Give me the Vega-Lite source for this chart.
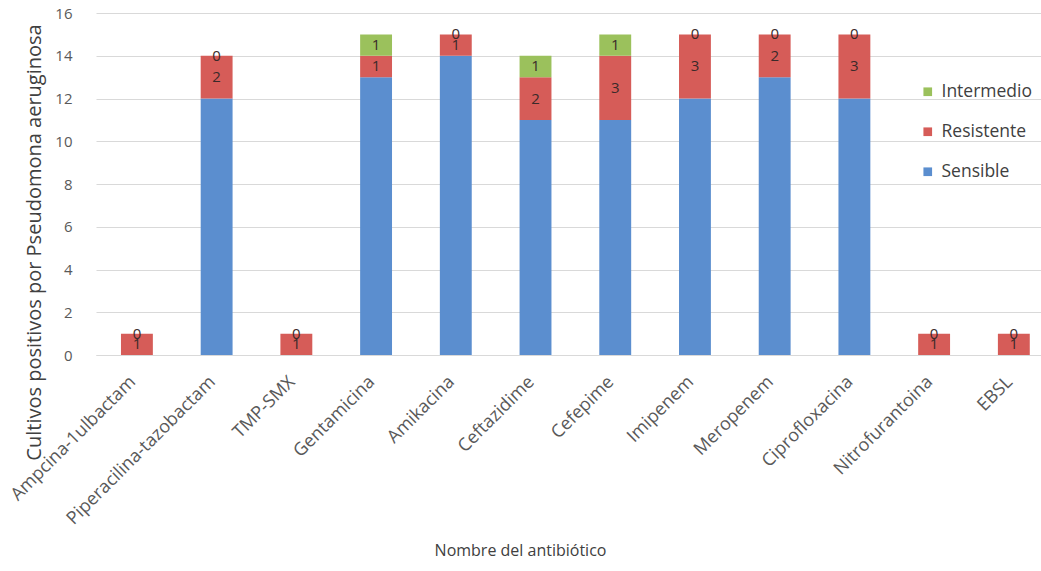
{
  "$schema": "https://vega.github.io/schema/vega-lite/v6.json",
  "width": 945,
  "height": 342,
  "autosize": "none",
  "padding": {"left": 96, "top": 13, "right": 0, "bottom": 216},
  "background": "white",
  "config": {"view": {"stroke": null}, "font": "Open Sans"},
  "data": {
    "values": [
      {"antibiotico": "Ampcina-1ulbactam", "tipo": "Sensible", "valor": 0},
      {"antibiotico": "Ampcina-1ulbactam", "tipo": "Resistente", "valor": 1},
      {"antibiotico": "Ampcina-1ulbactam", "tipo": "Intermedio", "valor": 0},
      {"antibiotico": "Piperacilina-tazobactam", "tipo": "Sensible", "valor": 12},
      {"antibiotico": "Piperacilina-tazobactam", "tipo": "Resistente", "valor": 2},
      {"antibiotico": "Piperacilina-tazobactam", "tipo": "Intermedio", "valor": 0},
      {"antibiotico": "TMP-SMX", "tipo": "Sensible", "valor": 0},
      {"antibiotico": "TMP-SMX", "tipo": "Resistente", "valor": 1},
      {"antibiotico": "TMP-SMX", "tipo": "Intermedio", "valor": 0},
      {"antibiotico": "Gentamicina", "tipo": "Sensible", "valor": 13},
      {"antibiotico": "Gentamicina", "tipo": "Resistente", "valor": 1},
      {"antibiotico": "Gentamicina", "tipo": "Intermedio", "valor": 1},
      {"antibiotico": "Amikacina", "tipo": "Sensible", "valor": 14},
      {"antibiotico": "Amikacina", "tipo": "Resistente", "valor": 1},
      {"antibiotico": "Amikacina", "tipo": "Intermedio", "valor": 0},
      {"antibiotico": "Ceftazidime", "tipo": "Sensible", "valor": 11},
      {"antibiotico": "Ceftazidime", "tipo": "Resistente", "valor": 2},
      {"antibiotico": "Ceftazidime", "tipo": "Intermedio", "valor": 1},
      {"antibiotico": "Cefepime", "tipo": "Sensible", "valor": 11},
      {"antibiotico": "Cefepime", "tipo": "Resistente", "valor": 3},
      {"antibiotico": "Cefepime", "tipo": "Intermedio", "valor": 1},
      {"antibiotico": "Imipenem", "tipo": "Sensible", "valor": 12},
      {"antibiotico": "Imipenem", "tipo": "Resistente", "valor": 3},
      {"antibiotico": "Imipenem", "tipo": "Intermedio", "valor": 0},
      {"antibiotico": "Meropenem", "tipo": "Sensible", "valor": 13},
      {"antibiotico": "Meropenem", "tipo": "Resistente", "valor": 2},
      {"antibiotico": "Meropenem", "tipo": "Intermedio", "valor": 0},
      {"antibiotico": "Ciprofloxacina", "tipo": "Sensible", "valor": 12},
      {"antibiotico": "Ciprofloxacina", "tipo": "Resistente", "valor": 3},
      {"antibiotico": "Ciprofloxacina", "tipo": "Intermedio", "valor": 0},
      {"antibiotico": "Nitrofurantoina", "tipo": "Sensible", "valor": 0},
      {"antibiotico": "Nitrofurantoina", "tipo": "Resistente", "valor": 1},
      {"antibiotico": "Nitrofurantoina", "tipo": "Intermedio", "valor": 0},
      {"antibiotico": "EBSL", "tipo": "Sensible", "valor": 0},
      {"antibiotico": "EBSL", "tipo": "Resistente", "valor": 1},
      {"antibiotico": "EBSL", "tipo": "Intermedio", "valor": 0}
    ]
  },
  "transform": [
    {"calculate": "indexof(['Sensible','Resistente','Intermedio'], datum.tipo)", "as": "orden"},
    {"stack": "valor", "groupby": ["antibiotico"], "sort": [{"field": "orden", "order": "ascending"}], "as": ["y0", "y1"]},
    {"calculate": "(datum.y0 + datum.y1) / 2", "as": "ymid"}
  ],
  "encoding": {
    "x": {
      "field": "antibiotico",
      "type": "nominal",
      "sort": null,
      "scale": {"paddingInner": 0.6, "paddingOuter": 0.227, "align": 0.69},
      "axis": {
        "title": "Nombre del antibiótico",
        "titleFont": "Open Sans",
        "titleFontSize": 16,
        "titleFontWeight": "normal",
        "titleColor": "#404040",
        "titleX": 424,
        "titleY": 195,
        "titleBaseline": "middle",
        "labelAngle": -45,
        "labelAlign": "right",
        "labelBaseline": "middle",
        "labelFontSize": 18,
        "labelColor": "#595959",
        "labelPadding": 24,
        "labelOffset": -4,
        "labelLimit": 0,
        "ticks": false,
        "domainColor": "#d9d9d9",
        "grid": false
      }
    }
  },
  "layer": [
    {
      "mark": {"type": "bar"},
      "encoding": {
        "y": {
          "field": "y0",
          "type": "quantitative",
          "scale": {"domain": [0, 16]},
          "axis": {
            "title": "Cultivos positivos por Pseudomona aeruginosa",
            "titleFontSize": 20,
            "titleFontWeight": "normal",
            "titleColor": "#404040",
            "titleX": -52,
            "titleY": 229,
            "titleAnchor": null,
            "titleAlign": "center",
            "titleBaseline": "bottom",
            "titleAngle": -90,
            "values": [0, 2, 4, 6, 8, 10, 12, 14, 16],
            "labelFontSize": 15,
            "labelColor": "#595959",
            "labelPadding": 24,
            "ticks": false,
            "domain": false,
            "gridColor": "#d9d9d9",
            "gridWidth": 1.2
          }
        },
        "y2": {"field": "y1"},
        "color": {
          "field": "tipo",
          "type": "nominal",
          "scale": {
            "domain": ["Intermedio", "Resistente", "Sensible"],
            "range": ["#9bc15c", "#d65c58", "#5b8ecf"]
          },
          "legend": {
            "title": null,
            "orient": "none",
            "legendX": 823,
            "legendY": 70,
            "symbolType": "square",
            "symbolSize": 75,
            "symbolStrokeWidth": 0,
            "labelFontSize": 17.5,
            "labelColor": "#404040",
            "labelOffset": 5,
            "rowPadding": 21
          }
        }
      }
    },
    {
      "transform": [{"filter": "datum.tipo != 'Sensible'"}],
      "mark": {"type": "text", "fontSize": 15, "color": "#3a2a2a"},
      "encoding": {
        "y": {"field": "ymid", "type": "quantitative"},
        "text": {"field": "valor", "type": "quantitative"}
      }
    }
  ]
}
